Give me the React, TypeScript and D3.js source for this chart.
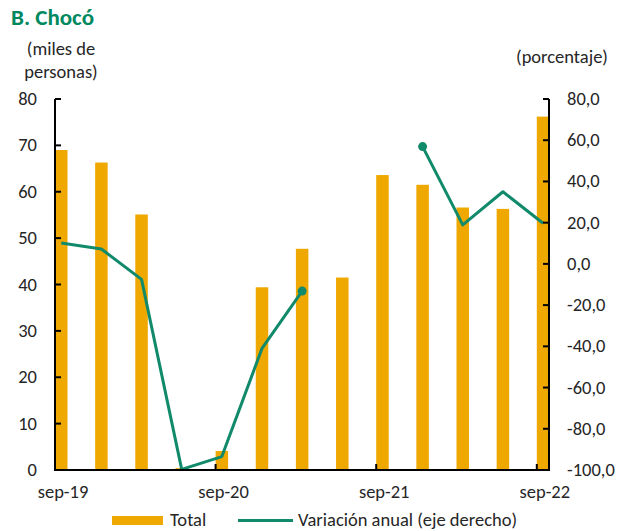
import * as d3 from "d3";

// Quarterly categories, sep-19 .. sep-22
const quarters = [
	"sep-19", "dic-19", "mar-20", "jun-20", "sep-20", "dic-20", "mar-21",
	"jun-21", "sep-21", "dic-21", "mar-22", "jun-22", "sep-22",
];
// Total (miles de personas) - left axis
const totals = [69.0, 66.3, 55.1, 0.4, 4.1, 39.4, 47.7, 41.5, 63.6, 61.5, 56.6, 56.3, 76.2];
// Variación anual (%) - right axis, gaps where not reported
const variation: (number | null)[] = [10.1, 7.2, -7.5, -99.7, -93.5, -41.0, -13.2, null, null, 56.9, 18.9, 35.0, 19.7];

const xTickLabels = ["sep-19", "sep-20", "sep-21", "sep-22"];
const leftTicks = [0, 10, 20, 30, 40, 50, 60, 70, 80];
const rightTicks = [-100, -80, -60, -40, -20, 0, 20, 40, 60, 80];

const BAR = "#EFA800";
const GREEN = "#108A6A";
const TXT = "#262626";
const FONT = "Carlito, Calibri, Lato, 'Open Sans', sans-serif";
const FS = 18.5;

export default function App() {
	const width = 622;
	const height = 531;
	const margin = { left: 55, right: 549, top: 99, bottom: 470 };

	// index -> left edge of each quarter slot
	const x = d3.scaleLinear().domain([0, quarters.length - 1]).range([margin.left, 536.8]);
	const barW = 12.5;
	const yL = d3.scaleLinear().domain([0, 80]).range([margin.bottom, margin.top]);
	const yR = d3.scaleLinear().domain([-100, 80]).range([margin.bottom, margin.top]);

	const line = d3.line<number | null>()
		.defined(d => d !== null)
		.x((_, i) => x(i) + barW / 2)
		.y(d => yR(d as number));

	// markers on points bordering a gap
	const markers = variation
		.map((v, i) => ({ v, i }))
		.filter(({ v, i }) => v !== null && (variation[i - 1] === null || variation[i + 1] === null)
			&& i > 0 && i < variation.length - 1);

	return (
		<svg width={width} height={height} style={{ position: "absolute", left: 0, top: 0, background: "#fff" }}
			fontFamily={FONT}>
			<text x={11} y={25} fontSize={23} fontWeight="bold" fill="#00885F">B. Chocó</text>
			<text x={61} y={55} fontSize={FS} fill={TXT} textAnchor="middle">(miles de</text>
			<text x={61} y={78} fontSize={FS} fill={TXT} textAnchor="middle">personas)</text>
			<text x={562} y={63} fontSize={FS} fill={TXT} textAnchor="middle">(porcentaje)</text>

			{/* bars */}
			{totals.map((v, i) => (
				<rect key={quarters[i]} x={x(i)} y={yL(v)} width={barW} height={yL(0) - yL(v)} fill={BAR} />
			))}

			{/* line */}
			<path d={line(variation) ?? ""} fill="none" stroke={GREEN} strokeWidth={3} strokeLinejoin="round" />
			{markers.map(({ v, i }) => (
				<circle key={i} cx={x(i) + barW / 2} cy={yR(v as number)} r={4.5} fill={GREEN} />
			))}

			{/* axes */}
			<g stroke="#000" strokeWidth={2} fill="none">
				<line x1={margin.left} x2={margin.left} y1={margin.top} y2={margin.bottom + 1} />
				<line x1={margin.right} x2={margin.right} y1={margin.top} y2={margin.bottom + 1} />
				<line x1={margin.left} x2={margin.right} y1={margin.bottom} y2={margin.bottom} />
				{leftTicks.map(t => (
					<line key={t} x1={margin.left} x2={margin.left + 6} y1={yL(t)} y2={yL(t)} />
				))}
				{rightTicks.map(t => (
					<line key={t} x1={margin.right - 6} x2={margin.right} y1={yR(t)} y2={yR(t)} />
				))}
				{xTickLabels.map(q => {
					const i = quarters.indexOf(q);
					return <line key={q} x1={x(i)} x2={x(i)} y1={margin.bottom - 6} y2={margin.bottom} />;
				})}
			</g>

			{leftTicks.map(t => (
				<text key={t} x={37} y={yL(t) + 6} fontSize={FS} fill={TXT} textAnchor="end">{t}</text>
			))}
			{rightTicks.map(t => (
				<text key={t} x={567} y={yR(t) + 6} fontSize={FS} fill={TXT}>
					{d3.format(".1f")(t).replace(".", ",").replace("−", "-")}
				</text>
			))}
			{xTickLabels.map(q => {
				const i = quarters.indexOf(q);
				return (
					<text key={q} x={x(i) + 8} y={498} fontSize={FS} fill={TXT} textAnchor="middle">{q}</text>
				);
			})}

			{/* legend */}
			<rect x={112} y={516} width={51} height={9} fill={BAR} />
			<text x={170} y={526} fontSize={FS} fill={TXT}>Total</text>
			<line x1={238} x2={293} y1={520.5} y2={520.5} stroke={GREEN} strokeWidth={3} />
			<text x={298} y={526} fontSize={FS} fill={TXT}>Variación anual (eje derecho)</text>
		</svg>
	);
}
